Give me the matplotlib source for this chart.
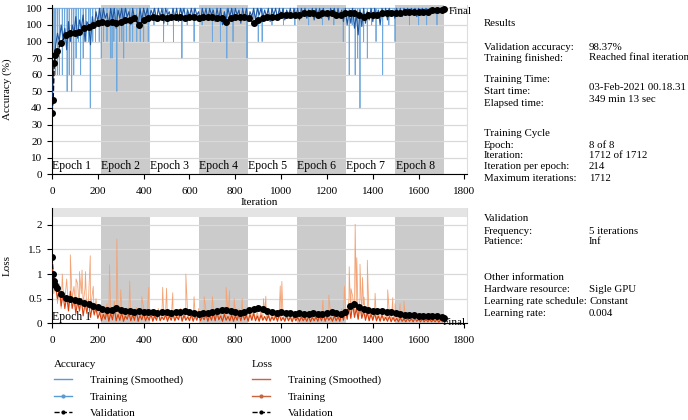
import matplotlib.pyplot as plt
from matplotlib.lines import Line2D
import numpy as np

plt.rcParams['font.family'] = ['Liberation Serif', 'DejaVu Serif']
plt.rcParams['font.size'] = 8

# ---- data ----
iters_per_epoch = 214
max_iter = 1712
epoch_names = ['Epoch 1', 'Epoch 2', 'Epoch 3', 'Epoch 4',
               'Epoch 5', 'Epoch 6', 'Epoch 7', 'Epoch 8']

# smoothed training accuracy, one value every 8 iterations (0..1712)
acc_smooth = [40, 65, 78, 85, 80, 90, 82, 88, 75, 92, 80, 90, 85, 95, 82, 93, 88, 96, 80, 92, 90, 78, 95, 88, 98, 92,
              100, 91, 100, 94, 97, 90, 100, 93, 100, 88,
              99, 94, 100, 92, 100, 95, 98, 90, 100, 94,
              96, 89, 100, 93, 100, 95, 100, 92, 99, 96,
              100, 93, 100, 95, 100, 91, 100, 96, 98, 93,
              100, 94, 100, 92, 100, 96, 100, 93, 99, 95,
              100, 94, 100, 96, 98, 92, 100, 95, 100, 93,
              100, 96, 99, 92, 100, 94, 100, 90, 98, 93,
              100, 95, 100, 93, 100, 96, 99, 91, 100, 94,
              100, 92, 98, 95, 100, 93, 100, 96, 100, 94,
              99, 95, 100, 92, 100, 96, 100, 94, 100, 95,
              100, 93, 99, 96, 100, 94, 100, 95, 100, 93,
              100, 96, 100, 94, 99, 95, 100, 93, 100, 96,
              100, 94, 100, 95, 98, 93, 100, 96, 100, 94,
              100, 95, 99, 92, 100, 90, 98, 91, 100, 88,
              96, 84, 99, 89, 100, 91, 98, 93, 100, 92,
              100, 94, 99, 90, 100, 95, 100, 93, 100, 96,
              99, 94, 100, 96, 100, 95, 100, 97, 100, 96,
              100, 97, 100, 95, 100, 97, 100, 96, 100, 97,
              100, 98, 100, 97, 100, 98, 100, 99, 100]

# raw mini-batch accuracy: 100 except at these dips
acc_dip_iter = [2, 9, 16, 24, 32, 45, 55, 66, 75, 86,
                95, 105, 115, 125, 136, 148, 160, 167, 178, 190,
                206, 215, 225, 240, 255, 262, 270, 283, 295, 305, 313, 325, 340, 352, 370, 385, 400, 420, 445,
                487, 505, 530, 567, 590, 620, 655, 700, 735, 763, 790, 851, 880, 900, 917, 960, 1010, 1060,
                1120, 1180, 1230, 1271, 1297, 1310, 1323, 1334, 1344, 1360, 1376, 1395, 1414, 1443, 1470,
                1497, 1560, 1600, 1635, 1680]
acc_dip_val = [40, 70, 60, 60, 60, 60, 80, 50, 60, 50,
               60, 70, 80, 60, 70, 80, 80, 40, 80, 80,
               80, 70, 80, 80, 70, 70, 80, 50, 80, 80, 70, 80, 80, 80, 80, 80, 80, 80, 90,
               80, 90, 80, 70, 90, 80, 90, 80, 80, 70, 80, 70, 90, 80, 80, 90, 90, 90,
               90, 90, 90, 80, 60, 90, 60, 70, 40, 80, 70, 90, 80, 60, 90,
               80, 90, 90, 90, 90]

val_iter = [0, 5, 10, 15] + list(range(20, 1701, 20)) + [1712]
val_acc = [37, 45, 67, 72,
           74, 79, 84, 85, 85, 86, 88, 89, 90, 91,
           92, 91, 92, 91, 92, 93, 93, 94, 90, 93,
           94, 95, 94, 95, 94, 95, 95, 95, 94, 95,
           95, 94, 95, 95, 95, 94, 94, 92, 94, 95,
           95, 95, 94, 91, 93, 94, 95, 95, 95, 96,
           96, 96, 96, 96, 97, 97, 97, 96, 97, 97,
           97, 96, 96, 97, 97, 97, 96, 95, 96, 96,
           96, 97, 97, 97, 97, 97, 98, 98, 98, 98,
           98, 98, 99, 99, 99, 99.5]
val_loss = [1.35, 1.0, 0.85, 0.78,
            0.72, 0.6, 0.52, 0.5, 0.47, 0.45, 0.42, 0.4, 0.36, 0.33,
            0.3, 0.28, 0.27, 0.32, 0.28, 0.25, 0.24, 0.23, 0.25, 0.22,
            0.22, 0.23, 0.21, 0.22, 0.22, 0.21, 0.22, 0.22, 0.24, 0.22,
            0.2, 0.19, 0.2, 0.21, 0.22, 0.25, 0.26, 0.28, 0.24, 0.22,
            0.2, 0.22, 0.26, 0.3, 0.31, 0.29, 0.25, 0.22, 0.21, 0.22,
            0.2, 0.21, 0.19, 0.2, 0.19, 0.18, 0.2, 0.19, 0.18, 0.2,
            0.22, 0.2, 0.19, 0.22, 0.35, 0.4, 0.33, 0.3, 0.28, 0.25,
            0.25, 0.24, 0.22, 0.22, 0.2, 0.18, 0.17, 0.17, 0.16, 0.15,
            0.15, 0.14, 0.15, 0.14, 0.13, 0.11]

# training loss, one value every 8 iterations (0..1712)
loss_raw = [1.3, 0.6, 0.9, 0.4, 0.8, 0.3, 0.7, 0.45, 0.9, 0.3, 0.6, 0.5, 0.75, 0.3, 0.8, 0.25, 0.6, 0.4, 0.7, 0.2,
            0.55, 0.3, 0.6, 0.15, 0.5, 0.2,
            0.35, 0.08, 0.3, 0.1, 0.4, 0.06, 0.28, 0.12, 0.45, 0.07,
            0.3, 0.1, 0.35, 0.05, 0.25, 0.12, 0.3, 0.06, 0.28, 0.09,
            0.32, 0.05, 0.25, 0.1, 0.3, 0.07, 0.22, 0.09, 0.28, 0.05,
            0.24, 0.08, 0.3, 0.06, 0.22, 0.1, 0.26, 0.05, 0.23, 0.08,
            0.28, 0.06, 0.22, 0.1, 0.3, 0.05, 0.25, 0.08, 0.2, 0.06,
            0.26, 0.05, 0.23, 0.08, 0.3, 0.06, 0.22, 0.1, 0.27, 0.05,
            0.25, 0.08, 0.3, 0.06, 0.32, 0.09, 0.24, 0.05, 0.28, 0.08,
            0.22, 0.06, 0.26, 0.05, 0.24, 0.08, 0.3, 0.06, 0.3, 0.09,
            0.25, 0.05, 0.28, 0.08, 0.3, 0.06, 0.24, 0.05, 0.26, 0.08,
            0.22, 0.06, 0.25, 0.05, 0.2, 0.08, 0.24, 0.05, 0.28, 0.06,
            0.2, 0.05, 0.24, 0.06, 0.2, 0.04, 0.22, 0.06, 0.19, 0.05,
            0.21, 0.06, 0.18, 0.05, 0.22, 0.04, 0.2, 0.06, 0.21, 0.05,
            0.24, 0.06, 0.28, 0.05, 0.22, 0.08, 0.2, 0.05, 0.24, 0.06,
            0.2, 0.05, 0.3, 0.08, 0.4, 0.1, 0.5, 0.12, 0.55, 0.15,
            0.45, 0.1, 0.5, 0.12, 0.38, 0.08, 0.32, 0.06, 0.28, 0.08,
            0.3, 0.06, 0.24, 0.05, 0.26, 0.06, 0.2, 0.05, 0.22, 0.04,
            0.2, 0.05, 0.17, 0.04, 0.18, 0.05, 0.15, 0.04, 0.16, 0.05,
            0.15, 0.04, 0.16, 0.05, 0.13, 0.04, 0.14, 0.04, 0.13, 0.04,
            0.13, 0.04, 0.12, 0.04, 0.13, 0.03, 0.12, 0.04, 0.1]
loss_smooth = [1.2, 0.9, 0.75, 0.5, 0.7, 0.35, 0.6, 0.3, 0.55, 0.25, 0.65, 0.3, 0.5, 0.2, 0.45, 0.25, 0.5, 0.15,
               0.4, 0.22, 0.45, 0.12, 0.35, 0.18, 0.3, 0.1,
               0.22, 0.05, 0.18, 0.08, 0.25, 0.04, 0.2, 0.07, 0.3, 0.05,
               0.18, 0.06, 0.22, 0.04, 0.15, 0.08, 0.2, 0.05, 0.17, 0.06,
               0.25, 0.04, 0.16, 0.07, 0.2, 0.05, 0.14, 0.06, 0.18, 0.04,
               0.15, 0.06, 0.19, 0.05, 0.13, 0.07, 0.17, 0.04, 0.15, 0.06,
               0.18, 0.05, 0.14, 0.07, 0.2, 0.04, 0.16, 0.06, 0.13, 0.05,
               0.17, 0.04, 0.15, 0.06, 0.19, 0.05, 0.14, 0.07, 0.18, 0.04,
               0.16, 0.06, 0.2, 0.05, 0.22, 0.07, 0.15, 0.04, 0.18, 0.06,
               0.14, 0.05, 0.17, 0.04, 0.15, 0.06, 0.19, 0.05, 0.2, 0.07,
               0.16, 0.04, 0.18, 0.06, 0.2, 0.05, 0.15, 0.04, 0.17, 0.06,
               0.14, 0.05, 0.16, 0.04, 0.13, 0.06, 0.15, 0.04, 0.18, 0.05,
               0.12, 0.04, 0.15, 0.05, 0.13, 0.03, 0.14, 0.05, 0.12, 0.04,
               0.13, 0.05, 0.11, 0.04, 0.14, 0.03, 0.12, 0.05, 0.13, 0.04,
               0.15, 0.05, 0.18, 0.04, 0.14, 0.06, 0.12, 0.04, 0.15, 0.05,
               0.13, 0.04, 0.2, 0.06, 0.28, 0.08, 0.35, 0.1, 0.4, 0.12,
               0.3, 0.08, 0.35, 0.1, 0.25, 0.06, 0.22, 0.05, 0.18, 0.06,
               0.2, 0.05, 0.15, 0.04, 0.17, 0.05, 0.12, 0.04, 0.14, 0.03,
               0.12, 0.04, 0.1, 0.03, 0.11, 0.04, 0.09, 0.03, 0.1, 0.04,
               0.09, 0.03, 0.1, 0.04, 0.08, 0.03, 0.09, 0.03, 0.08, 0.03,
               0.08, 0.03, 0.07, 0.03, 0.08, 0.02, 0.07, 0.03, 0.06]

# spikes of the raw training loss
loss_spike_iter = [45, 80, 105, 120, 131, 146, 167, 180, 251, 283, 300, 339, 392, 422, 483, 500, 527, 584,
                   620, 664, 700, 760, 775, 795, 830, 923, 933, 996, 1003, 1182, 1208, 1276, 1297, 1305,
                   1323, 1330, 1344, 1355, 1362, 1376, 1410, 1465, 1487, 1497, 1519, 1536]
loss_spike_val = [1.0, 1.39, 0.9, 1.05, 1.08, 1.05, 1.37, 0.75, 1.19, 1.71, 0.68, 0.86, 0.54, 0.73, 0.73, 0.71,
                  0.62, 1.0, 0.54, 0.54, 0.54, 0.73, 0.66, 0.5, 0.5, 0.5, 0.55, 0.76, 0.85, 0.47, 0.57, 0.75,
                  1.15, 0.7, 2.01, 1.33, 1.2, 0.93, 0.53, 1.28, 0.61, 0.68, 0.52, 0.4, 0.4, 0.45]

info_labels = ['Results', 'Validation accuracy:', 'Training finished:', 'Training Time:', 'Start time:',
               'Elapsed time:', 'Training Cycle', 'Epoch:', 'Iteration:', 'Iteration per epoch:',
               'Maximum iterations:', 'Validation', 'Frequency:', 'Patience:', 'Other information',
               'Hardware resource:', 'Learning rate schedule:', 'Learning rate:']
info_values = ['98.37%', 'Reached final iteration', '03-Feb-2021 00.18.31', '349 min 13 sec', '8 of 8',
               '1712 of 1712', '214', '1712', '5 iterations', 'Inf', 'Sigle GPU', 'Constant', '0.004']

# ---- build series ----
step8 = np.arange(0, max_iter + 1, 8)
all_iter = np.arange(max_iter + 1)
acc_raw = np.full(max_iter + 1, 100.0)
acc_raw[acc_dip_iter] = acc_dip_val

lx = np.concatenate([step8, loss_spike_iter])
ly = np.concatenate([loss_raw, loss_spike_val])
order = np.argsort(lx, kind='stable')
lx, ly = lx[order], ly[order]

W, H = 688, 420
fig = plt.figure(figsize=(W / 100, H / 100), dpi=100)
ax1 = fig.add_axes([52 / W, 1 - 174.3 / H, 415 / W, 169.3 / H])
ax2 = fig.add_axes([52 / W, 1 - 323.3 / H, 415 / W, 115.3 / H])

band = '#cbcbcb'
for ax in (ax1, ax2):
    for k in range(1, 8, 2):
        ax.axvspan(k * iters_per_epoch, (k + 1) * iters_per_epoch, ymax=0.925 if ax is ax2 else 1,
                   color=band, lw=0, zorder=0)
    ax.set_xlim(0, 1811)
    ax.set_xticks(range(0, 1801, 200))
    ax.spines['top'].set_visible(False)
    ax.spines['right'].set_color('#dddddd')
    ax.set_axisbelow(True)
    ax.yaxis.grid(True, color='#d9d9d9', lw=0.9)
    ax.tick_params(length=3.5, width=0.8, labelsize=8)
    ax.tick_params(axis='x', pad=6)

# accuracy panel
ax1.plot(all_iter, acc_raw, color='#6fa8dc', lw=0.6, zorder=2)
ax1.plot(step8, acc_smooth, color='#1f56a0', lw=0.8, zorder=3)
ax1.plot(val_iter, val_acc, '--o', color='black', ms=4, lw=1, zorder=4)
ax1.set_ylim(0, 102)
ax1.set_yticks(range(0, 101, 10))
ax1.set_yticklabels(['0', '10', '20', '30', '40', '50', '60', '70', '100', '100', '100'])
ax1.set_ylabel('Accuracy (%)', labelpad=10)
ax1.set_xlabel('Iteration', labelpad=1)
for k, name in enumerate(epoch_names):
    ax1.text(k * iters_per_epoch + 1, 5, name, ha='left', va='center', fontsize=8.5, zorder=5)
ax1.annotate('Final', xy=(max_iter, val_acc[-1]), xytext=(3, -2), textcoords='offset points',
             va='center', ha='left', fontsize=8)

# loss panel
ax2.axhspan(2.16, 2.34, color='#e4e4e4', lw=0, zorder=0)
ax2.text(1, 0.13, epoch_names[0], ha='left', va='center', fontsize=8.5, zorder=1)
ax2.plot(lx, ly, color='#f2a477', lw=0.6, zorder=2)
ax2.plot(step8, loss_smooth, color='#d8410e', lw=0.8, zorder=3)
ax2.plot(val_iter, val_loss, '--o', color='black', ms=4, lw=1, zorder=4)
ax2.set_ylim(0, 2.34)
ax2.set_yticks([0, 0.5, 1, 1.5, 2])
ax2.set_yticklabels(['0', '0.5', '1', '1.5', '2'])
ax2.set_ylabel('Loss', labelpad=12)
ax2.annotate('Final', xy=(max_iter, val_loss[-1]), xytext=(-1, -3), textcoords='offset points',
             va='center', ha='left', fontsize=8, zorder=6)

# legends
acc_h = [Line2D([], [], color='#5b9bd5', lw=1),
         Line2D([], [], color='#5b9bd5', lw=1, marker='.', ms=4),
         Line2D([], [], color='black', lw=1, ls='--', marker='.', ms=4)]
loss_h = [Line2D([], [], color='#c8653e', lw=1),
          Line2D([], [], color='#c8653e', lw=1, marker='.', ms=4),
          Line2D([], [], color='black', lw=1, ls='--', marker='.', ms=4)]
names = ['Training (Smoothed)', 'Training', 'Validation']
for handles, title, x in [(acc_h, 'Accuracy', 48), (loss_h, 'Loss', 246)]:
    fig.legend(handles, names, title=title, loc='upper left', bbox_to_anchor=(x / W, 1 - 354 / H),
               frameon=False, alignment='left', handlelength=1.7, handletextpad=1.6,
               labelspacing=0.6, borderpad=0, fontsize=8, title_fontsize=8)

# info panel on the right
label_y = [23, 47, 58, 79, 91, 103, 133, 145, 156, 167, 178, 218, 231, 242, 278, 290, 302, 314]
value_y = [47, 58, 88, 100, 145, 156, 167, 178, 231, 242, 290, 302, 314]
for txt, y in zip(info_labels, label_y):
    fig.text(484 / W, 1 - y / H, txt, va='center', ha='left', fontsize=7.8)
for txt, y in zip(info_values, value_y):
    fig.text(589 / W, 1 - y / H, txt, va='center', ha='left', fontsize=7.8)

fig.savefig('out.png', dpi=100)
